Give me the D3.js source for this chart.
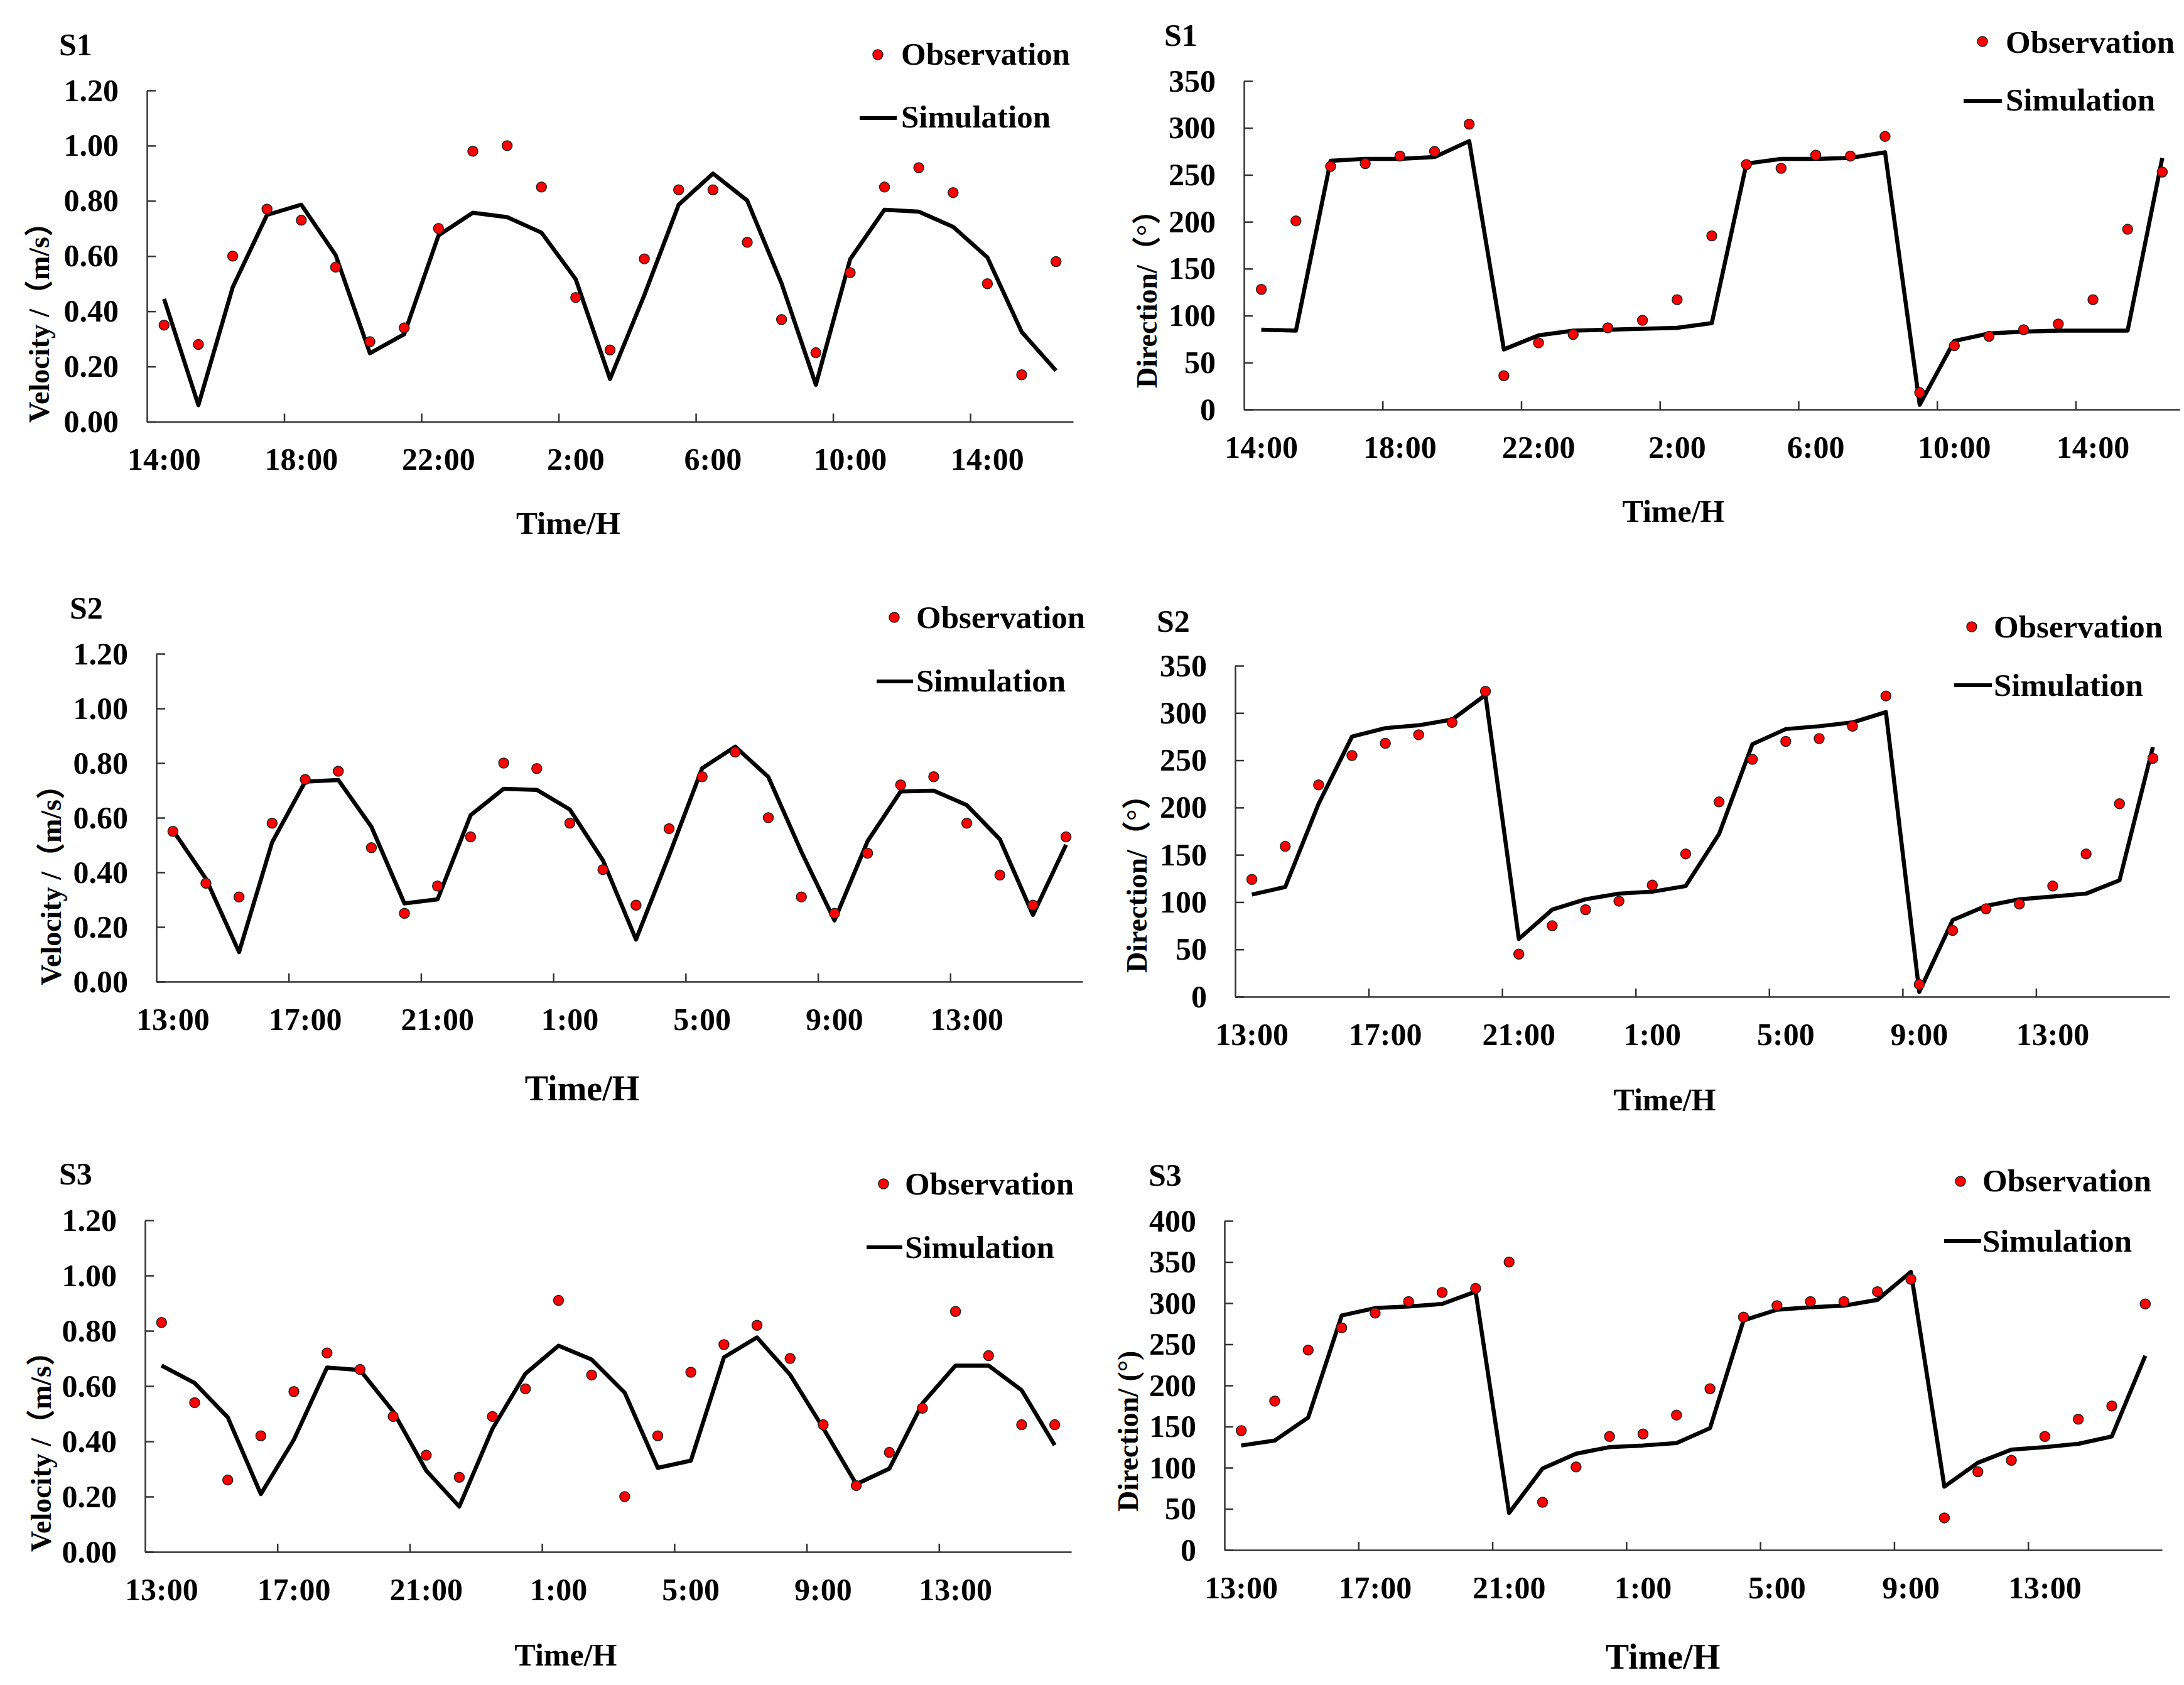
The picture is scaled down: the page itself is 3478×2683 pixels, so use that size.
<!DOCTYPE html>
<html>
<head>
<meta charset="utf-8">
<script src="https://cdn.jsdelivr.net/npm/d3@7"></script>
<style>
body { margin: 0; background: #fff; }
svg text { font-family: "Liberation Serif", "Times New Roman", "Noto Sans CJK SC", serif; font-weight: bold; fill: #000; }
</style>
</head>
<body>
<svg id="fig"></svg>
<script>
'use strict';

// hourly categories
var s1Hours = ['14:00', '15:00', '16:00', '17:00', '18:00', '19:00', '20:00', '21:00', '22:00', '23:00',
    '0:00', '1:00', '2:00', '3:00', '4:00', '5:00', '6:00', '7:00', '8:00', '9:00', '10:00', '11:00',
    '12:00', '13:00', '14:00 ', '15:00 ', '16:00 '];
var s23Hours = ['13:00', '14:00', '15:00', '16:00', '17:00', '18:00', '19:00', '20:00', '21:00', '22:00',
    '23:00', '0:00', '1:00', '2:00', '3:00', '4:00', '5:00', '6:00', '7:00', '8:00', '9:00', '10:00',
    '11:00', '12:00', '13:00 ', '14:00 ', '15:00 ', '16:00 '];

// velocity (m/s)
var s1VelObs = [0.35, 0.28, 0.60, 0.77, 0.73, 0.56, 0.29, 0.34, 0.70, 0.98, 1.00, 0.85, 0.45, 0.26, 0.59,
    0.84, 0.84, 0.65, 0.37, 0.25, 0.54, 0.85, 0.92, 0.83, 0.50, 0.17, 0.58];
var s1VelSim = [0.445, 0.06, 0.487, 0.749, 0.786, 0.604, 0.248, 0.317, 0.675, 0.757, 0.741, 0.685, 0.516,
    0.155, 0.459, 0.786, 0.899, 0.801, 0.501, 0.134, 0.589, 0.768, 0.761, 0.706, 0.595, 0.325, 0.185];
var s2VelObs = [0.55, 0.36, 0.31, 0.58, 0.74, 0.77, 0.49, 0.25, 0.35, 0.53, 0.80, 0.78, 0.58, 0.41, 0.28,
    0.56, 0.75, 0.84, 0.60, 0.31, 0.25, 0.47, 0.72, 0.75, 0.58, 0.39, 0.28, 0.53];
var s2VelSim = [0.554, 0.376, 0.108, 0.510, 0.732, 0.738, 0.567, 0.286, 0.301, 0.609, 0.706, 0.702, 0.630,
    0.444, 0.154, 0.462, 0.781, 0.860, 0.749, 0.475, 0.224, 0.514, 0.696, 0.699, 0.646, 0.521, 0.244, 0.501];
var s3VelObs = [0.83, 0.54, 0.26, 0.42, 0.58, 0.72, 0.66, 0.49, 0.35, 0.27, 0.49, 0.59, 0.91, 0.64, 0.20,
    0.42, 0.65, 0.75, 0.82, 0.70, 0.46, 0.24, 0.36, 0.52, 0.87, 0.71, 0.46, 0.46];
var s3VelSim = [0.674, 0.611, 0.487, 0.209, 0.406, 0.667, 0.658, 0.508, 0.294, 0.164, 0.445, 0.645, 0.746,
    0.696, 0.576, 0.304, 0.330, 0.704, 0.776, 0.641, 0.448, 0.245, 0.301, 0.537, 0.674, 0.674, 0.585, 0.386];

// direction (degrees)
var s1DirObs = [128, 201, 259, 262, 270, 275, 304, 36, 71, 80, 87, 95, 117, 185, 261, 257, 271, 270, 291,
    18, 68, 78, 85, 91, 117, 192, 253];
var s1DirSim = [85, 84, 265, 267, 267, 269, 286, 64, 79, 84, 85, 86, 87, 92, 262, 267, 267, 268, 274,
    5, 73, 81, 83, 84, 84, 84, 268];
var s2DirObs = [124, 159, 224, 255, 268, 277, 290, 323, 45, 75, 92, 101, 118, 151, 206, 251, 270, 273, 286,
    318, 13, 70, 93, 98, 117, 151, 204, 252];
var s2DirSim = [108, 116, 204, 275, 284, 287, 293, 319, 61, 92, 103, 109, 111, 117, 172, 267, 283, 286, 290,
    301, 5, 81, 96, 103, 106, 109, 123, 264];
var s3DirObs = [145, 181, 243, 270, 288, 302, 313, 318, 350, 58, 101, 138, 141, 164, 196, 283, 297, 302, 302,
    314, 329, 39, 95, 109, 138, 159, 175, 299];
var s3DirSim = [127, 133, 161, 285, 294, 296, 299, 314, 45, 99, 117, 125, 127, 130, 148, 279, 292, 295, 297,
    304, 338, 77, 106, 122, 125, 129, 138, 236];

// axis ticks
var velTicks = [0, 0.2, 0.4, 0.6, 0.8, 1.0, 1.2];
var dirTicks350 = [0, 50, 100, 150, 200, 250, 300, 350];
var dirTicks400 = [0, 50, 100, 150, 200, 250, 300, 350, 400];

var W = 3478, H = 2683;
var svg = d3.select('#fig').attr('width', W).attr('height', H);
svg.append('rect').attr('width', W).attr('height', H).attr('fill', '#fff');

// one entry per panel: data refs + where things sit on the page
var panels = [
    { title: 'S1', hours: s1Hours, obs: s1VelObs, sim: s1VelSim, ticks: velTicks, fmt: '.2f',
      yLabel: 'Velocity /\uFF08m/s\uFF09',
      box: [234, 1709, 144, 671.5], titleAt: [94, 88], yLabAt: [78, 673], xLabAt: [905, 850, 51],
      leg: { dot: [1398, 87], obs: [1435, 103], line: [1369, 1428, 188], sim: [1435, 203] } },
    { title: 'S1', hours: s1Hours, obs: s1DirObs, sim: s1DirSim, ticks: dirTicks350, fmt: 'd',
      yLabel: 'Direction/\uFF08\u00B0\uFF09',
      box: [1981, 3471, 129, 652], titleAt: [1854, 73], yLabAt: [1842, 618], xLabAt: [2665, 831, 50],
      leg: { dot: [3157, 66], obs: [3194, 84], line: [3127, 3188, 161], sim: [3194, 176] } },
    { title: 'S2', hours: s23Hours, obs: s2VelObs, sim: s2VelSim, ticks: velTicks, fmt: '.2f',
      yLabel: 'Velocity /\uFF08m/s\uFF09',
      box: [249, 1724, 1041, 1563], titleAt: [111, 985], yLabAt: [97, 1569], xLabAt: [927, 1752, 56],
      leg: { dot: [1424, 983], obs: [1459, 1000], line: [1396, 1454, 1085], sim: [1459, 1101] } },
    { title: 'S2', hours: s23Hours, obs: s2DirObs, sim: s2DirSim, ticks: dirTicks350, fmt: 'd',
      yLabel: 'Direction/\uFF08\u00B0\uFF09',
      box: [1967, 3455, 1060, 1587], titleAt: [1842, 1006], yLabAt: [1826, 1549], xLabAt: [2651, 1768, 50],
      leg: { dot: [3140, 998], obs: [3175, 1015], line: [3112, 3172, 1091], sim: [3175, 1108] } },
    { title: 'S3', hours: s23Hours, obs: s3VelObs, sim: s3VelSim, ticks: velTicks, fmt: '.2f',
      yLabel: 'Velocity /\uFF08m/s\uFF09',
      box: [231, 1706, 1943, 2471], titleAt: [94, 1886], yLabAt: [81, 2471], xLabAt: [901, 2652, 50],
      leg: { dot: [1407, 1885], obs: [1441, 1902], line: [1380, 1437, 1986], sim: [1441, 2003] } },
    { title: 'S3', hours: s23Hours, obs: s3DirObs, sim: s3DirSim, ticks: dirTicks400, fmt: 'd',
      yLabel: 'Direction/ (\u00B0)',
      box: [1950, 3443, 1944, 2468], titleAt: [1829, 1888], yLabAt: [1812, 2407], xLabAt: [2648, 2657, 56],
      leg: { dot: [3122, 1881], obs: [3157, 1897], line: [3096, 3155, 1976], sim: [3157, 1993] } }
];

var axisColor = '#333';

panels.forEach(drawPanel);

function drawPanel(p) {
    var x0 = p.box[0], x1 = p.box[1], yTop = p.box[2], yBot = p.box[3];
    var n = p.hours.length;
    var g = svg.append('g');

    var x = d3.scaleBand().domain(p.hours).range([x0, x1]).padding(0);
    var xEdge = d3.scaleLinear().domain([0, n]).range([x0, x1]);
    var y = d3.scaleLinear().domain([0, d3.max(p.ticks)]).range([yBot, yTop]);
    var cx = function (i) { return x(p.hours[i]) + x.bandwidth() / 2; };

    // x axis line + inward tick marks every 4 hours (between categories)
    var xAxis = g.append('g')
        .attr('transform', 'translate(0,' + yBot + ')')
        .style('color', axisColor)
        .call(d3.axisBottom(xEdge).tickValues(d3.range(4, n, 4)).tickSize(-13).tickSizeOuter(0).tickFormat(''));
    xAxis.selectAll('path, line').attr('stroke-width', 2.5);

    // x labels at category centers
    var xLabs = g.append('g')
        .attr('transform', 'translate(0,' + yBot + ')')
        .call(d3.axisBottom(x).tickValues(p.hours.filter(function (d, i) { return i % 4 === 0; }))
            .tickSize(0).tickPadding(41).tickFormat(function (d) { return d.trim(); }));
    xLabs.select('.domain').remove();
    xLabs.selectAll('text').style('font-size', '50px');

    // y axis
    var yAxis = g.append('g')
        .attr('transform', 'translate(' + x0 + ',0)')
        .style('color', axisColor)
        .call(d3.axisLeft(y).tickValues(p.ticks).tickSize(-14).tickSizeOuter(0).tickPadding(45)
            .tickFormat(d3.format(p.fmt)));
    yAxis.selectAll('path, line').attr('stroke-width', 2.5);
    yAxis.selectAll('text').style('font-size', '50px').attr('fill', '#000');

    // simulation line
    var line = d3.line()
        .x(function (d, i) { return cx(i); })
        .y(function (d) { return y(d); });
    g.append('path')
        .datum(p.sim)
        .attr('d', line)
        .attr('fill', 'none')
        .attr('stroke', '#000')
        .attr('stroke-width', 6.5)
        .attr('stroke-linejoin', 'round');

    // observation dots
    g.selectAll('.obs')
        .data(p.obs)
        .enter().append('circle')
        .attr('class', 'obs')
        .attr('cx', function (d, i) { return cx(i); })
        .attr('cy', function (d) { return y(d); })
        .attr('r', 8)
        .attr('fill', '#ff0000')
        .attr('stroke', '#222')
        .attr('stroke-width', 1.5);

    // panel title
    g.append('text')
        .attr('x', p.titleAt[0]).attr('y', p.titleAt[1])
        .style('font-size', '50px')
        .text(p.title);

    // axis titles
    g.append('text')
        .attr('transform', 'translate(' + p.yLabAt[0] + ',' + p.yLabAt[1] + ') rotate(-90)')
        .style('font-size', '46px')
        .text(p.yLabel);

    g.append('text')
        .attr('x', p.xLabAt[0]).attr('y', p.xLabAt[1])
        .style('text-anchor', 'middle')
        .style('font-size', p.xLabAt[2] + 'px')
        .text('Time/H');

    // legend
    var leg = p.leg;
    g.append('circle')
        .attr('cx', leg.dot[0]).attr('cy', leg.dot[1]).attr('r', 8)
        .attr('fill', '#ff0000').attr('stroke', '#222').attr('stroke-width', 1.5);
    g.append('text').attr('x', leg.obs[0]).attr('y', leg.obs[1]).style('font-size', '51px').text('Observation');
    g.append('line')
        .attr('x1', leg.line[0]).attr('x2', leg.line[1]).attr('y1', leg.line[2]).attr('y2', leg.line[2])
        .attr('stroke', '#000').attr('stroke-width', 6);
    g.append('text').attr('x', leg.sim[0]).attr('y', leg.sim[1]).style('font-size', '51px').text('Simulation');
}
</script>
</body>
</html>
